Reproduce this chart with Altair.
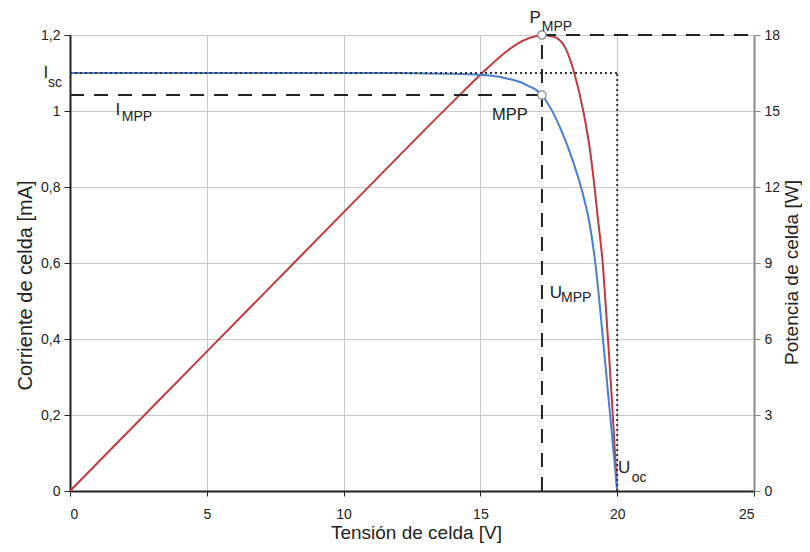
import altair as alt
import pandas as pd

# ---- data ----
V_I = [0, 5, 10, 12, 13, 14, 15, 15.5, 16, 16.5, 16.81, 17.05, 17.25, 17.6, 17.95, 18.35, 18.75, 19.0, 19.2, 19.48, 19.74, 20]
I_vals = [1.1, 1.1, 1.1, 1.1, 1.099, 1.098, 1.095, 1.092, 1.085, 1.075, 1.064, 1.055, 1.042, 1.003, 0.95, 0.875, 0.78, 0.70, 0.6, 0.4, 0.2, 0]

V_P = [0, 5, 10, 14, 15, 16, 16.5, 17, 17.25, 17.5, 17.8, 18.1, 18.43, 18.76, 19.0, 19.15, 19.3, 19.47, 19.6, 19.7, 19.8, 20]
P_vals = [0, 5.5, 11, 15.37, 16.43, 17.39, 17.75, 17.95, 18.0, 17.97, 17.88, 17.5, 16.5, 15.0, 13.5, 12.2, 10.7, 9.0, 7.0, 5.4, 3.7, 0]

U_MPP = 17.25
I_MPP = 1.042
I_SC = 1.1
U_OC = 20.0
TOP = 1.2

I_ticks = [0, 0.2, 0.4, 0.6, 0.8, 1.0, 1.2]
P_ticks = [0, 3, 6, 9, 12, 15, 18]
V_ticks = [0, 5, 10, 15, 20, 25]

# label pieces: text, V, I, font size
lab_text = ["I", "sc", "I", "MPP", "MPP", "P", "MPP", "U", "MPP", "U", "oc"]
lab_V = [-0.88, -0.55, 1.75, 2.45, 16.08, 17.0, 17.8, 17.76, 18.5, 20.25, 20.8]
lab_I = [1.1, 1.074, 1.003, 0.985, 0.989, 1.244, 1.222, 0.521, 0.507, 0.0605, 0.034]
lab_size = [17, 14, 17, 14, 16.5, 17, 14, 17, 14, 17, 14]

FONT = "Liberation Sans"

cur_df = pd.DataFrame({"V": V_I, "I": I_vals})
pow_df = pd.DataFrame({"V": V_P, "P": P_vals})
dash_df = pd.DataFrame({
    "x": [0, U_MPP, U_MPP], "x2": [U_MPP, U_MPP, 25],
    "y": [I_MPP, 0, TOP], "y2": [I_MPP, TOP, TOP]})
dot_df = pd.DataFrame({
    "x": [0, U_OC], "x2": [U_OC, U_OC],
    "y": [I_SC, 0], "y2": [I_SC, I_SC]})
pt_df = pd.DataFrame({"x": [U_MPP, U_MPP], "y": [I_MPP, TOP]})
lab_df = pd.DataFrame({"t": lab_text, "x": lab_V, "y": lab_I, "fs": lab_size})

xs = alt.Scale(domain=[0, 25], nice=False)
yI = alt.Scale(domain=[0, 1.2], nice=False)
yP = alt.Scale(domain=[0, 18], nice=False)

x_axis = alt.Axis(values=V_ticks, title="Tensión de celda [V]", grid=True,
                  gridColor="#c8c8c8", domainColor="#222", domainWidth=2,
                  tickColor="#222", tickSize=5, labelPadding=11, titlePadding=2,
                  titleFontSize=19, titleX=346)

yI_axis = alt.Axis(values=I_ticks, title="Corriente de celda [mA]", orient="left",
                   labelExpr="replace(format(datum.value, '.1~f'), '.', ',')",
                   grid=True, gridColor="#c8c8c8", domainColor="#222", domainWidth=2,
                   tickColor="#222", tickSize=6, labelPadding=4, titlePadding=5,
                   titleY=250)

yP_axis = alt.Axis(values=P_ticks, title="Potencia de celda [W]", orient="right",
                   grid=False, domainColor="#888", domainWidth=2,
                   tickColor="#888", tickSize=6, labelPadding=4,
                   titleAngle=270, titleBaseline="middle", titleX=37, titleY=237,
                   titleFontSize=19)

power = alt.Chart(pow_df).mark_line(color="#c0393f", strokeWidth=2, interpolate="monotone").encode(
    x=alt.X("V:Q", scale=xs, axis=x_axis),
    y=alt.Y("P:Q", scale=yP, axis=yP_axis),
)

current = alt.Chart(cur_df).mark_line(color="#4a7fcf", strokeWidth=2, interpolate="monotone").encode(
    x=alt.X("V:Q", scale=xs, axis=x_axis),
    y=alt.Y("I:Q", scale=yI, axis=yI_axis),
)

dashed = alt.Chart(dash_df).mark_rule(color="#222", strokeWidth=2, strokeDash=[14, 10]).encode(
    x=alt.X("x:Q", scale=xs), x2="x2:Q",
    y=alt.Y("y:Q", scale=yI), y2="y2:Q",
)

dotted = alt.Chart(dot_df).mark_rule(color="#333", strokeWidth=2, strokeDash=[2, 3]).encode(
    x=alt.X("x:Q", scale=xs), x2="x2:Q",
    y=alt.Y("y:Q", scale=yI), y2="y2:Q",
)

points = alt.Chart(pt_df).mark_point(filled=True, fill="white", stroke="#888", strokeWidth=1.2,
                                     size=70, opacity=1).encode(
    x=alt.X("x:Q", scale=xs),
    y=alt.Y("y:Q", scale=yI),
)

labels = alt.Chart(lab_df).mark_text(font=FONT, color="#222", align="center", baseline="middle").encode(
    x=alt.X("x:Q", scale=xs),
    y=alt.Y("y:Q", scale=yI),
    text="t:N",
    size=alt.Size("fs:Q", scale=None, legend=None),
)

left = alt.layer(current, dotted, dashed, points, labels)

chart = alt.layer(power, left).resolve_scale(y="independent").properties(
    width=684, height=456,
    autosize=alt.AutoSizeParams(type="none"),
    padding={"left": 62, "top": 27, "right": 48, "bottom": 53},
).configure_view(stroke=None).configure_axis(
    labelFont=FONT, titleFont=FONT, labelFontSize=14, titleFontSize=20,
    labelColor="#222", titleColor="#222", titleFontWeight="normal",
)

chart.save("out.html", embed_options={"renderer": "svg", "actions": False})
